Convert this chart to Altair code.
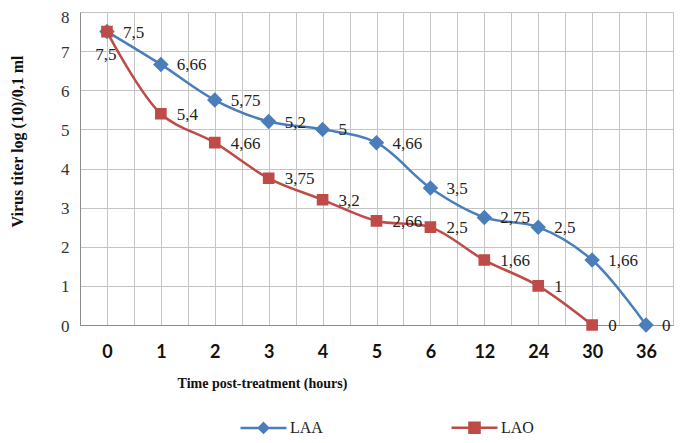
import json
import altair as alt
import pandas as pd

hours = ["0", "1", "2", "3", "4", "5", "6", "12", "24", "30", "36"]
laa = [7.5, 6.66, 5.75, 5.2, 5, 4.66, 3.5, 2.75, 2.5, 1.66, 0]
lao = [7.5, 5.4, 4.66, 3.75, 3.2, 2.66, 2.5, 1.66, 1, 0, None]
series = ["LAA", "LAO"]
colors = ["#4a7ebb", "#be4b48"]

rows = []
for name, vals in zip(series, [laa, lao]):
    for i, (h, v) in enumerate(zip(hours, vals)):
        if v is None:
            continue
        rows.append({"idx": i, "hour": h, "series": name, "value": v,
                     "label": f"{v:g}".replace(".", ",")})
df = pd.DataFrame(rows)

# legend symbols: a line segment with a marker in the middle
paths = [
    "M-1,0L1,0M0,-0.2L0.2,0L0,0.2L-0.2,0Z",
    "M-1,0L1,0M-0.22,-0.22L0.22,-0.22L0.22,0.22L-0.22,0.22Z",
]

SERIF = "Liberation Serif"
grid_vals = [i * 0.5 - 0.5 for i in range(2 * len(hours) + 1)]
label_expr = "datum.value % 1 === 0 ? " + json.dumps(hours) + "[datum.value] : ''"

legend = alt.Legend(
    title=None, orient="none", legendX=159, legendY=391, direction="horizontal",
    symbolSize=2116, symbolStrokeWidth=2.5, symbolOpacity=1,
    labelFont=SERIF, labelFontSize=16, labelColor="#222222", labelOffset=2,
    columnPadding=123, padding=0,
)

x_enc = alt.X(
    "idx:Q",
    scale=alt.Scale(domain=[-0.5, len(hours) - 0.5], nice=False, zero=False),
    axis=alt.Axis(
        values=grid_vals, labelExpr=label_expr, labelOverlap=False, labelFlush=False,
        labelBound=False,
        labelFont="Lato", labelFontWeight="bold", labelFontSize=18, labelColor="#111111",
        labelPadding=18, ticks=False,
        title="Time post-treatment (hours)", titleFont=SERIF, titleFontWeight="bold",
        titleFontSize=14, titleColor="#111111", titleX=182, titleY=58,
        titleAlign="center", titleBaseline="middle",
    ),
)
y_enc = alt.Y(
    "value:Q",
    scale=alt.Scale(domain=[0, 8], nice=False),
    axis=alt.Axis(
        values=list(range(9)), labelFont=SERIF, labelFontSize=17, labelColor="#333333",
        labelPadding=11,
        labelOffset={"condition": {"test": "datum.value == 8", "value": 5}, "value": 1},
        ticks=False,
        title="Virus  titer log (10)/0,1 ml", titleFont=SERIF, titleFontWeight="bold",
        titleFontSize=16, titleColor="#111111", titleX=-63, titleY=129,
        titleAlign="center", titleBaseline="middle",
    ),
)
color_enc = alt.Color("series:N", scale=alt.Scale(domain=series, range=colors), legend=legend)
shape_enc = alt.Shape("series:N", scale=alt.Scale(domain=series, range=paths), legend=legend)

base = alt.Chart(df).encode(x=x_enc, y=y_enc)

line = base.mark_line(strokeWidth=2.5, interpolate="catmull-rom").encode(color=color_enc)
pts_laa = base.transform_filter("datum.series == 'LAA'").mark_point(
    filled=True, size=6000, opacity=1).encode(color=color_enc, shape=shape_enc)
pts_lao = base.transform_filter("datum.series == 'LAO'").mark_point(
    filled=True, size=2800, opacity=1).encode(color=color_enc, shape=shape_enc)
labels = base.transform_filter("!(datum.series == 'LAO' && datum.idx == 0)").mark_text(
    align="left", baseline="middle", dx=16, dy=1, font=SERIF, fontSize=17, color="#222222"
).encode(text="label:N")
label0 = base.transform_filter("datum.series == 'LAO' && datum.idx == 0").mark_text(
    align="center", baseline="middle", dx=-1, dy=23, font=SERIF, fontSize=17, color="#222222"
).encode(text="label:N")

chart = alt.layer(line, pts_laa, pts_lao, labels, label0).properties(
    width=593, height=313,
    autosize=alt.AutoSizeParams(type="none"),
    padding={"left": 72, "top": 4, "right": 7, "bottom": 110},
).configure_view(strokeWidth=0).configure_axis(
    domainColor="#8c8c8c", gridColor="#c4c4c4", gridWidth=1, domainWidth=1
)

chart.save("out.html", embed_options={"renderer": "svg", "actions": False})
